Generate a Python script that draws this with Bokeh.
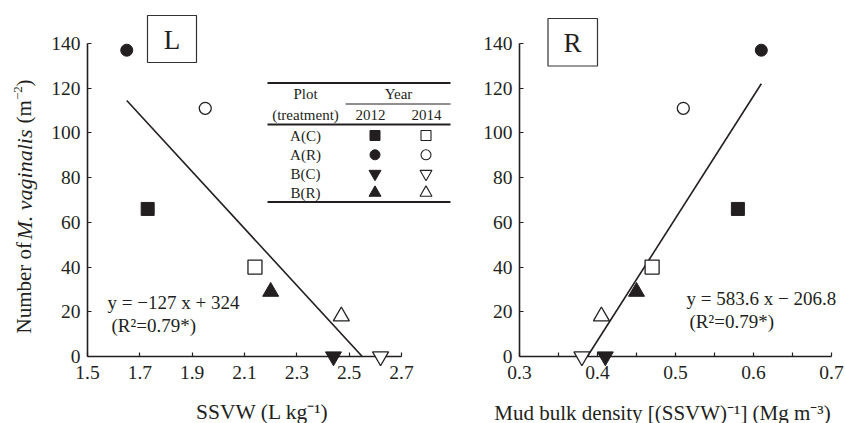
import numpy as np
from bokeh.plotting import figure
from bokeh.models import Range1d, FixedTicker, ColumnDataSource
from bokeh.layouts import row
from bokeh.embed import file_html
from bokeh.resources import INLINE
from bokeh.core.properties import value

# ---------------- data ----------------
plots = ["A(C)", "A(R)", "B(C)", "B(R)"]
markers = ["square", "circle", "inverted_triangle", "triangle"]
years = ["2012", "2014"]
ssvw_2012 = [1.73, 1.65, 2.44, 2.20]
ssvw_2014 = [2.14, 1.95, 2.62, 2.47]
n_2012 = [66, 137, 0, 29]
n_2014 = [40, 111, 0, 18]
bd_2012 = [0.58, 0.61, 0.41, 0.45]
bd_2014 = [0.47, 0.51, 0.38, 0.405]
fit_l_x = [1.65, 2.55]
fit_l_y = [114.5, 0.0]
fit_r_x = [0.387, 0.61]
fit_r_y = [0.0, 122.0]
eq_left = ["y = \u2212127 x + 324", "(R\u00b2=0.79*)"]
eq_right = ["y = 583.6 x \u2212 206.8", "(R\u00b2=0.79*)"]
x_ticks_l = [1.5, 1.7, 1.9, 2.1, 2.3, 2.5, 2.7]
x_ticks_r = [0.3, 0.4, 0.5, 0.6, 0.7]
x_minor_r = [0.35, 0.45, 0.55, 0.65]
y_ticks = [0, 20, 40, 60, 80, 100, 120, 140]

INK = "#231f20"
FONT = "Liberation Serif"
sizes_filled = [13, 12, 16, 16]
sizes_open = [14, 12, 16, 16]

H = 423
TOP, BOT = 43, 67
FH = H - TOP - BOT
LW = 460           # left figure width
L_LEFT = 87
L_SCALE = 314.0 / 1.2  # px per SSVW unit
R_LEFT = 519
R_RIGHT = 831


def make_fig(width, left, right, xr):
    p = figure(width=width, height=H, output_backend="svg", toolbar_location=None,
               x_range=Range1d(*xr), y_range=Range1d(0, 140),
               min_border_left=left, min_border_right=right,
               min_border_top=TOP, min_border_bottom=BOT)
    p.outline_line_color = None
    p.xgrid.visible = False
    p.ygrid.visible = False
    p.background_fill_color = "white"
    p.border_fill_color = "white"
    for ax in [p.xaxis[0], p.yaxis[0]]:
        ax.axis_line_color = INK
        ax.axis_line_width = 1.6
        ax.major_tick_in = 4
        ax.major_tick_out = 0
        ax.major_tick_line_color = INK
        ax.major_tick_line_width = 1.2
        ax.minor_tick_line_color = None
        ax.major_label_text_font = FONT
        ax.major_label_text_font_size = "19.5px"
        ax.major_label_text_color = INK
    p.yaxis[0].ticker = FixedTicker(ticks=y_ticks)
    p.yaxis[0].major_label_standoff = 7
    p.xaxis[0].major_label_standoff = 9
    return p


def add_points(p, xs12, xs14, ys12, ys14):
    s12 = ColumnDataSource(dict(x=xs12, y=ys12, m=markers, s=sizes_filled))
    s14 = ColumnDataSource(dict(x=xs14, y=ys14, m=markers, s=sizes_open))
    p.scatter("x", "y", marker="m", size="s", source=s14, fill_color="white",
              line_color=INK, line_width=1.3, level="overlay")
    p.scatter("x", "y", marker="m", size="s", source=s12, fill_color=INK,
              line_color=INK, line_width=1, level="overlay")


def txt(p, x, y, t, size, align="left", baseline="middle", style="normal", angle=0.0):
    p.text(x=[x], y=[y], text=[t], text_font=value(FONT), text_font_size=value(size),
           text_color=INK, text_align=align, text_baseline=baseline,
           text_font_style=style, angle=angle, level="overlay")


# ---------------- left panel ----------------
l_xend = 1.5 + (LW - L_LEFT) / L_SCALE
pl = make_fig(LW, L_LEFT, 0, (1.5, l_xend))
pl.xaxis[0].ticker = FixedTicker(ticks=x_ticks_l)
pl.xaxis[0].bounds = (1.5, 2.7)
pl.xaxis[0].major_label_overrides = {1.5: "1.5", 1.7: "1.7", 1.9: "1.9", 2.1: "2.1",
                                     2.3: "2.3", 2.5: "2.5", 2.7: "2.7"}


def lx(px):
    return 1.5 + (px - L_LEFT) / L_SCALE


def ly(py):
    return (TOP + FH - py) / (FH / 140.0)


def lpx(dpx):
    return dpx / L_SCALE


pl.line(fit_l_x, fit_l_y, line_color=INK, line_width=1.6)
add_points(pl, ssvw_2012, ssvw_2014, n_2012, n_2014)

# equation
txt(pl, lx(107), ly(301.5), eq_left[0], "19px")
txt(pl, lx(111), ly(324.5), eq_left[1], "19px")

# L box
pl.quad(left=[lx(147)], right=[lx(196)], top=[ly(15)], bottom=[ly(62)],
        fill_color="white", line_color="#333333", line_width=1.2, level="overlay")
txt(pl, lx(171.5), ly(39), "L", "27px", align="center")

# x title
txt(pl, lx(262), ly(411), "SSVW (L kg\u207b\u00b9)", "21.5px", align="center")

# y title (pieces, rotated, reading bottom to top)
yx = lx(23.5)
txt(pl, yx, ly(333), "Number of", "21px", angle=np.pi / 2)
txt(pl, yx, ly(239), "M. vaginalis", "22px", style="italic", angle=np.pi / 2)
txt(pl, yx, ly(123), "(m", "21px", angle=np.pi / 2)
txt(pl, yx - lpx(6), ly(99.5), "\u22122", "13px", angle=np.pi / 2)
txt(pl, yx, ly(86), ")", "21px", angle=np.pi / 2)

# legend table
tl, tr = 267, 450
pl.segment(x0=[lx(tl)] * 3, x1=[lx(tr)] * 3,
           y0=[ly(82.5), ly(124), ly(201.5)], y1=[ly(82.5), ly(124), ly(201.5)],
           line_color=INK, line_width=2, level="overlay")
pl.segment(x0=[lx(345)], x1=[lx(tr)], y0=[ly(103.5)], y1=[ly(103.5)],
           line_color=INK, line_width=1, level="overlay")
txt(pl, lx(305), ly(93), "Plot", "15px", align="center")
txt(pl, lx(398), ly(93), "Year", "15px", align="center")
txt(pl, lx(305), ly(114), "(treatment)", "15px", align="center")
txt(pl, lx(370), ly(114), years[0], "15px", align="center")
txt(pl, lx(426), ly(114), years[1], "15px", align="center")
row_y = [135, 154.3, 173.3, 192.3]
for i, name in enumerate(plots):
    txt(pl, lx(305), ly(row_y[i]), name, "15px", align="center")
leg12 = ColumnDataSource(dict(x=[lx(374.5)] * 4, y=[ly(v) for v in row_y], m=markers,
                              s=[10, 10, 12, 12]))
leg14 = ColumnDataSource(dict(x=[lx(425.5)] * 4, y=[ly(v) for v in row_y], m=markers,
                              s=[10, 10, 12, 12]))
pl.scatter("x", "y", marker="m", size="s", source=leg12, fill_color=INK, line_color=INK,
           level="overlay")
pl.scatter("x", "y", marker="m", size="s", source=leg14, fill_color="white", line_color=INK,
           line_width=1.1, level="overlay")

# ---------------- right panel ----------------
pr = make_fig(845 - LW, R_LEFT - LW, 845 - R_RIGHT, (0.3, 0.7))
pr.xaxis[0].ticker = FixedTicker(ticks=x_ticks_r, minor_ticks=x_minor_r)
pr.xaxis[0].minor_tick_in = 4
pr.xaxis[0].minor_tick_out = 0
pr.xaxis[0].minor_tick_line_color = INK
pr.xaxis[0].minor_tick_line_width = 1.2


def rx(px):
    return 0.3 + (px - R_LEFT) / ((R_RIGHT - R_LEFT) / 0.4)


pr.line(fit_r_x, fit_r_y, line_color=INK, line_width=1.6)
add_points(pr, bd_2012, bd_2014, n_2012, n_2014)

txt(pr, rx(686), ly(298), eq_right[0], "19px")
txt(pr, rx(689), ly(321), eq_right[1], "19px")

pr.quad(left=[rx(547.5)], right=[rx(597)], top=[ly(18)], bottom=[ly(65.5)],
        fill_color="white", line_color="#333333", line_width=1.2, level="overlay")
txt(pr, rx(572), ly(42), "R", "27px", align="center")

txt(pr, rx(662), ly(412), "Mud bulk density [(SSVW)\u207b\u00b9] (Mg m\u207b\u00b3)", "21px",
    align="center")

layout = row(pl, pr)
open("out.html", "w").write(file_html(layout, INLINE))
